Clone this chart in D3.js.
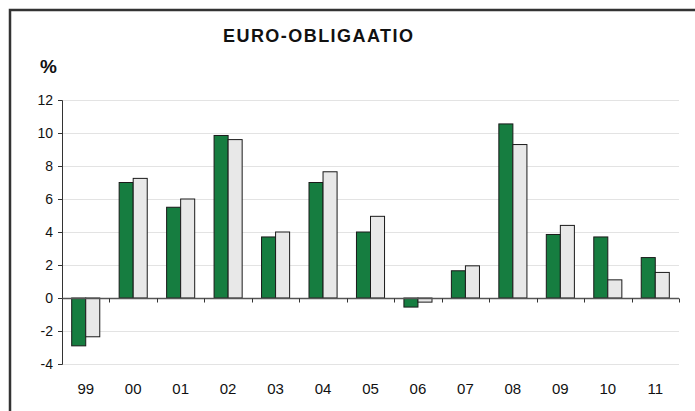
<html>
  <head>
    <meta charset="utf-8">
    <script src="https://cdn.jsdelivr.net/npm/d3@7"></script>
    <style>
      body { margin: 0; background: #fff; }
      svg text { font-family: "Liberation Sans Narrow", "Arial Narrow", "Liberation Sans", Arial, sans-serif; fill: #111; }
    </style>
  </head>
  <body>
    <svg id="chart" width="695" height="411"></svg>
    <script>
        // vuodet ja kaksi sarjaa (vihreä / harmaa)
        var years = ["99","00","01","02","03","04","05","06","07","08","09","10","11"];
        var greenVals = [-2.9, 7.0, 5.5, 9.85, 3.7, 7.0, 4.0, -0.55, 1.65, 10.55, 3.85, 3.7, 2.45];
        var greyVals  = [-2.35, 7.25, 6.0, 9.6, 4.0, 7.65, 4.95, -0.25, 1.95, 9.3, 4.4, 1.1, 1.55];
        var yTicks = [-4, -2, 0, 2, 4, 6, 8, 10, 12];
        var seriesNames = ["green", "grey"];
        var colors = { green: "#167d40", grey: "#e8e8e8" };

        var svg = d3.select("#chart");
        var plotLeft = 62, plotRight = 679, plotTop = 100, plotBottom = 364;

        // kehys
        svg.append("rect")
          .attr("x", 10).attr("y", 10).attr("width", 700).attr("height", 420)
          .attr("fill", "none").attr("stroke", "#333").attr("stroke-width", 2.5);

        var x0 = d3.scaleBand().domain(years).range([plotLeft, plotRight]).padding(0);
        var x1 = d3.scaleBand().domain(seriesNames).range([0, x0.bandwidth()]).paddingInner(0).paddingOuter(0.69);
        var y = d3.scaleLinear().domain([-4, 12]).range([plotBottom, plotTop]);

        // ruudukko
        svg.append("g").selectAll("line").data(yTicks).enter().append("line")
          .attr("x1", plotLeft).attr("x2", plotRight)
          .attr("y1", function(d) { return Math.round(y(d)) + 0.5; })
          .attr("y2", function(d) { return Math.round(y(d)) + 0.5; })
          .attr("stroke", "#e3e3e3").attr("stroke-width", 1);

        // pylväät
        var rows = years.map(function(yr, i) { return { year: yr, green: greenVals[i], grey: greyVals[i] }; });
        var groups = svg.append("g").selectAll("g").data(rows).enter().append("g")
          .attr("transform", function(d) { return "translate(" + x0(d.year) + ",0)"; });

        groups.selectAll("rect")
          .data(function(d) { return seriesNames.map(function(s) { return { key: s, value: d[s] }; }); })
          .enter().append("rect")
          .attr("x", function(d) { return x1(d.key); })
          .attr("width", x1.bandwidth())
          .attr("y", function(d) { return y(Math.max(0, d.value)); })
          .attr("height", function(d) { return Math.abs(y(d.value) - y(0)); })
          .attr("fill", function(d) { return colors[d.key]; })
          .attr("stroke", "#1a1a1a").attr("stroke-width", 1);

        // y-akseli (tavallinen miinusmerkki kuten alkuperäisessä)
        var yAxis = svg.append("g")
          .attr("transform", "translate(" + plotLeft + ",0)")
          .call(d3.axisLeft(y).tickValues(yTicks).tickSize(4).tickSizeOuter(4).tickPadding(5)
            .tickFormat(function(d) { return String(d); }));
        yAxis.select(".domain").attr("stroke", "#333");
        yAxis.selectAll(".tick line").attr("stroke", "#333");
        yAxis.selectAll("text").style("font-size", "14px").attr("fill", "#111");

        // x-akseli nollan kohdalla
        var zero = Math.round(y(0)) + 0.5;
        svg.append("line").attr("x1", plotLeft).attr("x2", plotRight).attr("y1", zero).attr("y2", zero)
          .attr("stroke", "#555").attr("stroke-width", 1.3);
        var boundaries = years.map(function(d) { return x0(d); }).concat([plotRight]);
        svg.append("g").selectAll("line").data(boundaries).enter().append("line")
          .attr("x1", function(d) { return Math.round(d) + 0.5; })
          .attr("x2", function(d) { return Math.round(d) + 0.5; })
          .attr("y1", zero).attr("y2", zero + 4)
          .attr("stroke", "#333");

        // vuosien nimet
        svg.append("g").selectAll("text").data(years).enter().append("text")
          .attr("x", function(d) { return x0(d) + x0.bandwidth() / 2; })
          .attr("y", 394)
          .attr("text-anchor", "middle")
          .style("font-size", "15px")
          .text(function(d) { return d; });

        // otsikko ja yksikkö
        svg.append("text")
          .attr("x", 318).attr("y", 42)
          .attr("text-anchor", "middle")
          .attr("textLength", 190).attr("lengthAdjust", "spacing")
          .style("font-size", "18px").style("font-weight", "bold")
          .text("EURO-OBLIGAATIO");

        svg.append("text")
          .attr("x", 40).attr("y", 73)
          .style("font-size", "19px").style("font-weight", "bold")
          .text("%");
    </script>
  </body>
</html>
